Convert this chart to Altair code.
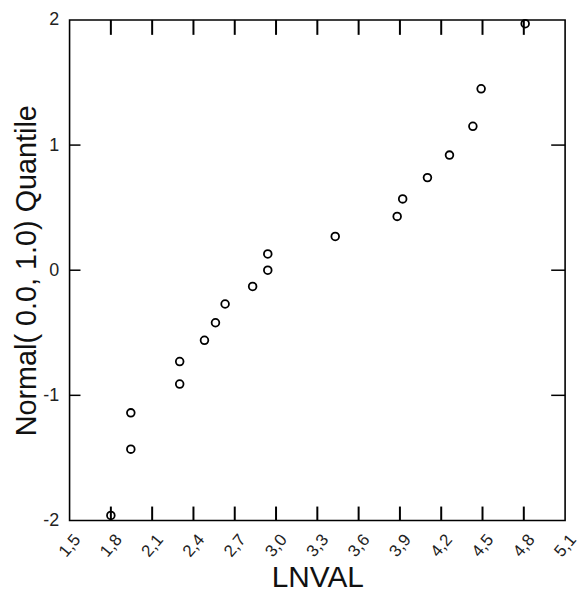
import altair as alt
import pandas as pd

# data
lnval = [1.80, 1.945, 1.945, 2.30, 2.30, 2.48, 2.56, 2.63, 2.83, 2.94,
         2.94, 3.43, 3.88, 3.92, 4.10, 4.26, 4.43, 4.49, 4.81]
quantile = [-1.96, -1.43, -1.14, -0.91, -0.73, -0.56, -0.42, -0.27, -0.13, 0.00,
            0.13, 0.27, 0.43, 0.57, 0.74, 0.92, 1.15, 1.45, 1.97]
x_labels = [1.5, 1.8, 2.1, 2.4, 2.7, 3.0, 3.3, 3.6, 3.9, 4.2, 4.5, 4.8, 5.1]
y_labels = [-2, -1, 0, 1, 2]
x_inner_ticks = [1.8, 2.1, 2.4, 2.7, 3.0, 3.3, 3.6, 3.9, 4.2, 4.5, 4.8]
y_inner_ticks = [-1, 0, 1]

W, H = 499, 504
FONT = "Liberation Sans"

df = pd.DataFrame({"x": lnval, "y": quantile})
xt = pd.DataFrame({"x": x_inner_ticks})
yt = pd.DataFrame({"y": y_inner_ticks})
frame_df = pd.DataFrame({"k": [0]})

xscale = alt.Scale(domain=[1.5, 5.1], nice=False, zero=False)
yscale = alt.Scale(domain=[-2, 2], nice=False, zero=False)

points = alt.Chart(df).mark_point(
    shape="circle", filled=False, stroke="black", strokeWidth=1.8, size=60, opacity=1
).encode(
    x=alt.X("x:Q", scale=xscale, title="LNVAL",
            axis=alt.Axis(values=x_labels, ticks=False, domain=False, grid=False,
                          labelExpr="replace(format(datum.value, '.1f'), '.', ',')",
                          labelAngle=-50, labelAlign="center", labelBaseline="middle",
                          labelPadding=25, labelFontSize=17, labelColor="#222",
                          labelFont=FONT, titleFont=FONT, titleFontSize=30,
                          titleFontWeight="normal", titleColor="#111", titlePadding=3,
                          labelOverlap=False, labelBound=False)),
    y=alt.Y("y:Q", scale=yscale, title="Normal( 0.0, 1.0) Quantile",
            axis=alt.Axis(values=y_labels, ticks=False, domain=False, grid=False,
                          labelExpr="toString(datum.value)",
                          labelPadding=11, labelFontSize=18, labelColor="#222",
                          labelFont=FONT, titleFont=FONT, titleFontSize=29,
                          titleFontWeight="normal", titleColor="#111", titlePadding=1)),
)

frame = alt.Chart(frame_df).mark_rect(filled=False, stroke="black", strokeWidth=1.6).encode(
    x=alt.value(0), x2=alt.value(W), y=alt.value(0), y2=alt.value(H))

bottom_ticks = alt.Chart(xt).mark_rule(color="black", strokeWidth=2).encode(
    x=alt.X("x:Q", scale=xscale), y=alt.value(H - 14), y2=alt.value(H))
top_ticks = alt.Chart(xt).mark_rule(color="black", strokeWidth=2).encode(
    x=alt.X("x:Q", scale=xscale), y=alt.value(0), y2=alt.value(15))
left_ticks = alt.Chart(yt).mark_rule(color="black", strokeWidth=1.5).encode(
    y=alt.Y("y:Q", scale=yscale), x=alt.value(0), x2=alt.value(11))
right_ticks = alt.Chart(yt).mark_rule(color="black", strokeWidth=1.5).encode(
    y=alt.Y("y:Q", scale=yscale), x=alt.value(W - 14), x2=alt.value(W))

chart = alt.layer(points, frame, bottom_ticks, top_ticks, left_ticks, right_ticks).properties(
    width=W, height=H,
    autosize=alt.AutoSizeParams(type="none"),
    padding={"left": 62, "top": 10, "right": 14, "bottom": 70},
    background="white",
).configure_view(stroke=None)

chart.save("out.html", embed_options={"renderer": "svg", "actions": False})
